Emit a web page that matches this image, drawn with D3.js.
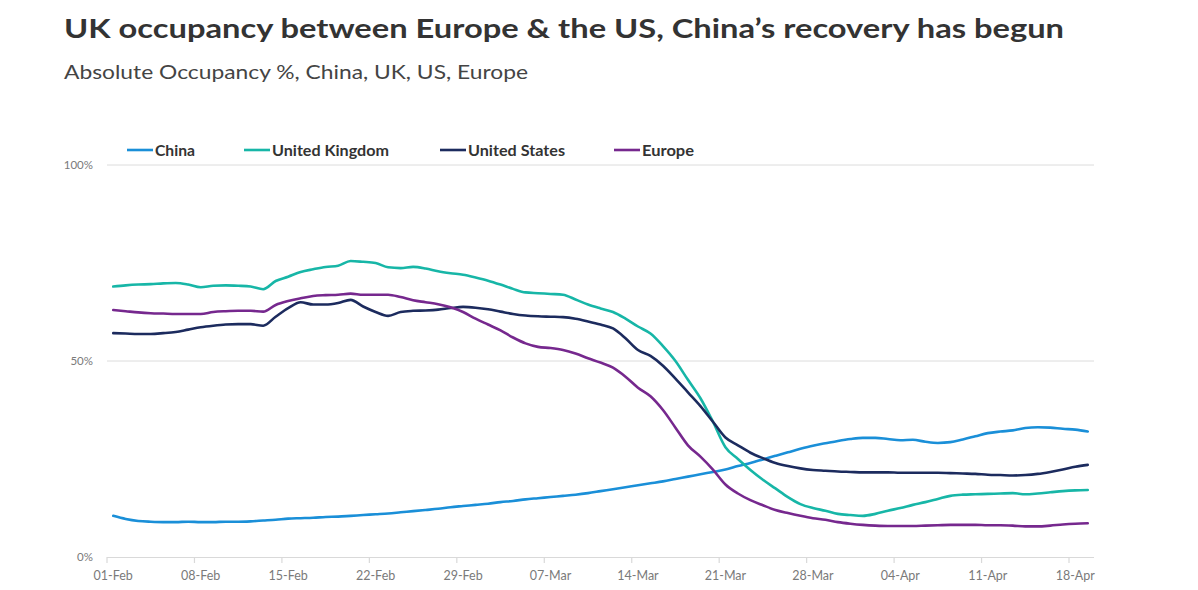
<!DOCTYPE html>
<html><head><meta charset="utf-8">
<script src="https://cdn.jsdelivr.net/npm/d3@7"></script>
<style>
html,body{margin:0;padding:0;background:#fff;}
svg{display:block;font-family:Lato,"Open Sans",sans-serif;}
</style></head><body>
<svg id="c" width="1198" height="590"></svg>
<script>
// ---- data ----
const startDate = "2020-02-01";
const nDays = 79;
const tickLabels = ["01-Feb","08-Feb","15-Feb","22-Feb","29-Feb","07-Mar","14-Mar","21-Mar","28-Mar","04-Apr","11-Apr","18-Apr"];
const yTickValues = [0, 50, 100];
const seriesNames = ["China","United Kingdom","United States","Europe"];
const seriesColors = ["#1a8fd8","#17b6a7","#1c2b5e","#76288e"];

const china = [10.5,9.7,9.2,9.0,8.9,8.9,9.0,8.9,8.9,9.0,9.0,9.1,9.3,9.5,9.8,9.9,10.0,10.2,10.3,10.5,10.7,10.9,11.1,11.4,11.7,12.0,12.3,12.7,13.0,13.3,13.6,14.0,14.3,14.7,15.0,15.3,15.6,15.9,16.3,16.8,17.3,17.8,18.3,18.8,19.3,19.9,20.5,21.1,21.7,22.3,23.2,24.0,24.9,25.8,26.7,27.6,28.4,29.0,29.6,30.1,30.4,30.4,30.1,29.8,29.9,29.4,29.1,29.3,30.0,30.8,31.6,32.0,32.3,32.9,33.1,33.0,32.7,32.5,32.0];
const uk = [69.0,69.3,69.5,69.6,69.8,69.9,69.5,68.8,69.2,69.3,69.2,69.0,68.3,70.4,71.5,72.7,73.4,74.0,74.3,75.5,75.3,75.0,73.9,73.7,74.0,73.6,72.9,72.4,72.0,71.3,70.5,69.5,68.4,67.5,67.3,67.1,66.9,65.7,64.4,63.4,62.5,60.8,58.8,57.0,53.8,50.0,45.2,40.5,34.5,28.0,25.0,22.2,19.7,17.5,15.3,13.5,12.5,11.8,11.0,10.7,10.5,11.0,11.8,12.5,13.3,14.0,14.8,15.6,15.9,16.0,16.1,16.2,16.3,16.0,16.2,16.5,16.8,17.0,17.1];
const us = [57.1,57.0,56.9,56.9,57.1,57.4,58.0,58.6,59.0,59.3,59.4,59.4,59.0,61.3,63.5,65.0,64.4,64.4,64.8,65.6,63.9,62.5,61.5,62.5,62.8,62.9,63.1,63.5,63.8,63.6,63.2,62.6,62.0,61.6,61.4,61.3,61.2,60.8,60.1,59.3,58.3,55.8,52.8,51.3,48.8,45.5,42.0,38.5,34.5,30.5,28.5,26.6,25.2,24.0,23.2,22.6,22.2,22.0,21.8,21.7,21.6,21.6,21.6,21.5,21.5,21.5,21.5,21.4,21.3,21.2,21.0,20.9,20.8,20.9,21.2,21.7,22.3,23.0,23.5];
const europe = [63.0,62.7,62.4,62.2,62.1,62.0,62.0,62.0,62.5,62.7,62.8,62.8,62.6,64.3,65.3,66.0,66.6,66.8,66.9,67.2,66.9,66.9,66.9,66.3,65.5,65.0,64.5,63.7,62.5,60.8,59.3,57.8,56.0,54.5,53.6,53.3,52.8,51.9,50.7,49.6,48.3,46.0,43.2,41.0,37.5,33.0,28.5,25.6,22.3,18.5,16.2,14.5,13.2,12.0,11.2,10.5,9.9,9.5,8.9,8.5,8.2,8.0,7.9,7.9,7.9,8.0,8.1,8.2,8.2,8.2,8.1,8.1,8.0,7.8,7.8,8.0,8.3,8.5,8.6];
const seriesValues = [china, uk, us, europe];

// ---- chart ----
const svg = d3.select("#c");
const t0 = new Date(startDate + "T00:00:00");
const days = d3.range(nDays).map(i => d3.timeDay.offset(t0, i));

const x = d3.scaleBand().domain(days.map(d => +d)).range([107, 1094]).padding(0);
const y = d3.scaleLinear().domain([0, 100]).range([557, 165]);
const cx = d => x(+d) + x.bandwidth() / 2;

// title
svg.append("text").attr("x", 64).attr("y", 38)
  .attr("font-size", 27.5).attr("font-weight", 700).attr("fill", "#333")
  .attr("textLength", 1000).attr("lengthAdjust", "spacingAndGlyphs")
  .text("UK occupancy between Europe & the US, China’s recovery has begun");
svg.append("text").attr("x", 64).attr("y", 79)
  .attr("font-size", 20).attr("fill", "#444")
  .attr("textLength", 464).attr("lengthAdjust", "spacingAndGlyphs")
  .text("Absolute Occupancy %, China, UK, US, Europe");

// gridlines
const gy = svg.append("g").attr("class", "grid");
yTickValues.filter(v => v > 0).forEach(v => {
  gy.append("line").attr("x1", 107).attr("x2", 1094)
    .attr("y1", y(v)).attr("y2", y(v))
    .attr("stroke", "#dcdcdc").attr("stroke-width", 1);
});

// y axis labels
const yAxis = d3.axisLeft(y).tickValues(yTickValues).tickFormat(d => d + "%").tickSize(0).tickPadding(0);
const yg = svg.append("g").attr("transform", "translate(93,0)").call(yAxis);
yg.select(".domain").remove();
yg.selectAll("text").attr("font-size", 11.5).attr("fill", "#7a7a7a").attr("font-family", "Lato, sans-serif");

// x axis
const tickDays = days.filter((d, i) => i % 7 === 0);
const xAxis = d3.axisBottom(x).tickValues(tickDays.map(d => +d))
  .tickFormat((d, i) => tickLabels[i]).tickSize(0).tickPadding(14);
const xg = svg.append("g").attr("transform", "translate(0,557)").call(xAxis);
xg.select(".domain").remove();
xg.selectAll("text").attr("font-size", 12.5).attr("fill", "#7a7a7a").attr("font-family", "Lato, sans-serif");
svg.append("line").attr("x1", 107).attr("x2", 1094).attr("y1", 557.5).attr("y2", 557.5)
  .attr("stroke", "#d9d9d9").attr("stroke-width", 1.2);
tickDays.forEach(d => {
  svg.append("line").attr("x1", x(+d)).attr("x2", x(+d)).attr("y1", 557).attr("y2", 563)
    .attr("stroke", "#d9d9d9").attr("stroke-width", 1.2);
});

// lines
const line = d3.line().x((v, i) => cx(days[i])).y(v => y(v)).curve(d3.curveMonotoneX);
seriesValues.forEach((vals, k) => {
  svg.append("path").datum(vals).attr("d", line)
    .attr("fill", "none").attr("stroke", seriesColors[k])
    .attr("stroke-width", 2.6).attr("stroke-linejoin", "round").attr("stroke-linecap", "round");
});

// legend
const legX = [127, 244, 440, 614];
const legW = [40, 117, 97, 52];
seriesNames.forEach((n, k) => {
  const g = svg.append("g").attr("transform", `translate(${legX[k]},150)`);
  g.append("line").attr("x1", 0).attr("x2", 26).attr("y1", 0).attr("y2", 0)
    .attr("stroke", seriesColors[k]).attr("stroke-width", 2.6);
  g.append("text").attr("x", 28).attr("y", 5.5).attr("font-size", 15.5)
    .attr("font-weight", 700).attr("fill", "#333")
    .attr("textLength", legW[k]).attr("lengthAdjust", "spacingAndGlyphs").text(n);
});
</script>
</body></html>
